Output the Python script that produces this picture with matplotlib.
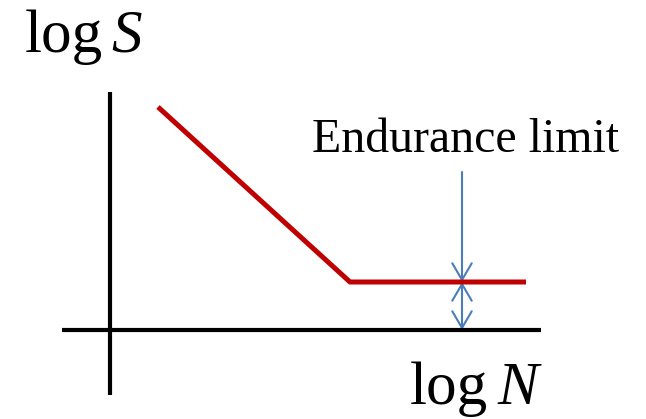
import matplotlib.pyplot as plt
from matplotlib.patches import FancyArrowPatch

plt.rcParams['mathtext.fontset'] = 'custom'
plt.rcParams['mathtext.rm'] = 'Liberation Serif'
plt.rcParams['mathtext.it'] = 'Liberation Serif:italic'

# S-N curve (drawing units, y grows downward like the page)
curve_n = [158, 350, 526]
curve_s = [107, 282, 282]

# axes lines
x_axis_n = [62, 541]
x_axis_s = [330, 330]
y_axis_n = [110, 110]
y_axis_s = [92, 395]

# endurance limit arrows
arrow_n = 462
arrow_top = 172
limit_s = 282
axis_s = 330

fig = plt.figure(figsize=(6.46, 4.19), dpi=100)
ax = fig.add_axes([0, 0, 1, 1])
ax.set_xlim(0, 646)
ax.set_ylim(419, 0)
ax.axis('off')

ax.plot(x_axis_n, x_axis_s, color='black', lw=3, solid_capstyle='butt')
ax.plot(y_axis_n, y_axis_s, color='black', lw=3, solid_capstyle='butt')
ax.plot(curve_n, curve_s, color='#C00000', lw=3.6, solid_capstyle='butt')

blue = '#4A7EBB'
a1 = FancyArrowPatch((arrow_n, arrow_top), (arrow_n, limit_s), arrowstyle='->,head_length=12,head_width=7',
                     color=blue, lw=1.5, shrinkA=0, shrinkB=0, mutation_scale=1)
a2 = FancyArrowPatch((arrow_n, limit_s), (arrow_n, axis_s), arrowstyle='<->,head_length=12,head_width=7',
                     color=blue, lw=1.5, shrinkA=0, shrinkB=0, mutation_scale=1)
ax.add_patch(a1)
ax.add_patch(a2)

serif = 'Liberation Serif'
ax.text(25, 52, 'log', fontsize=44, family=serif, va='baseline', ha='left')
ax.text(111, 52, 'S', fontsize=44, family=serif, style='italic', va='baseline', ha='left')
ax.text(410, 404, 'log', fontsize=44, family=serif, va='baseline', ha='left')
ax.text(497, 404, 'N', fontsize=44, family=serif, style='italic', va='baseline', ha='left')
ax.text(312, 152, 'Endurance limit', fontsize=34.5, family=serif, va='baseline', ha='left')

fig.savefig('out.png', dpi=100)
